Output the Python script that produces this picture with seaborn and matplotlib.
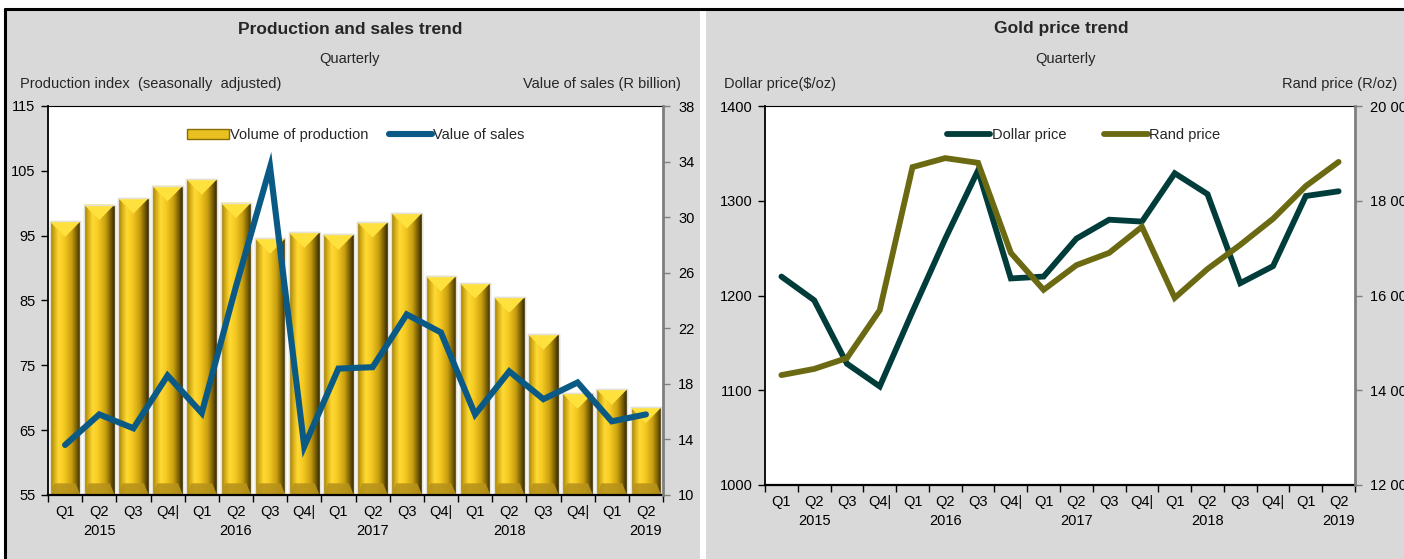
import numpy as np
import pandas as pd
import seaborn as sns
import matplotlib
matplotlib.use("Agg")
import matplotlib.pyplot as plt
from matplotlib import font_manager
from matplotlib.colors import LinearSegmentedColormap
from matplotlib.patches import Rectangle, Polygon, Patch
from matplotlib.lines import Line2D
from matplotlib.ticker import FuncFormatter

# ---------------------------------------------------------------- data
quarters = ["Q1", "Q2", "Q3", "Q4|"] * 4 + ["Q1", "Q2"]
years = ["2015", "2016", "2017", "2018", "2019"]
tick_labels = []
for i, q in enumerate(quarters):
    yr = years[i // 4]
    tick_labels.append(f"{q}\n{yr}" if q == "Q2" else q)

production_index = [97.2, 99.8, 100.8, 102.7, 103.7, 100.1, 94.6, 95.5, 95.2,
                    97.1, 98.5, 88.8, 87.7, 85.5, 79.8, 70.7, 71.3, 68.5]
sales_value = [13.6, 15.8, 14.8, 18.6, 15.9, 25.0, 33.6, 13.5, 19.1,
               19.2, 23.0, 21.7, 15.8, 18.9, 16.9, 18.1, 15.3, 15.8]

dollar_price = [1220, 1195, 1128, 1104, 1183, 1260, 1332, 1218, 1220,
                1260, 1280, 1278, 1329, 1307, 1213, 1231, 1305, 1310]
rand_price = [14320, 14450, 14680, 15690, 18710, 18900, 18800, 16900, 16120,
              16640, 16900, 17450, 15950, 16560, 17070, 17620, 18310, 18820]

# ---------------------------------------------------------------- style
sns.set_theme(style="white")
available = {f.name for f in font_manager.fontManager.ttflist}
families = [f for f in ["Liberation Sans Narrow", "Liberation Sans", "DejaVu Sans"] if f in available]
plt.rcParams["font.family"] = families
plt.rcParams["axes.linewidth"] = 1.0

BG = "#d9d9d9"
SALES_C = "#0b5a85"
DOLLAR_C = "#003d3a"
RAND_C = "#6b6a12"
TXT = 10.5

fig = plt.figure(figsize=(14.04, 5.59), dpi=100, facecolor="white")
W, H = 1404.0, 559.0

# panel backgrounds and frame
fig.patches.append(Rectangle((5 / W, 0), (700 - 5) / W, (H - 9) / H, transform=fig.transFigure,
                             facecolor=BG, edgecolor="none", zorder=-10))
fig.patches.append(Rectangle((706 / W, 0), (W - 706) / W, (H - 9) / H, transform=fig.transFigure,
                             facecolor=BG, edgecolor="none", zorder=-10))
fig.lines.append(Line2D([5 / W, 1], [(H - 9) / H] * 2, transform=fig.transFigure,
                        color="black", lw=2.2, zorder=-5))
fig.lines.append(Line2D([5 / W] * 2, [0, (H - 9) / H], transform=fig.transFigure,
                        color="black", lw=2.2, zorder=-5))

ax1 = fig.add_axes([48 / W, (H - 495) / H, 615 / W, 389 / H])
ax3 = fig.add_axes([765 / W, (H - 485) / H, 590 / W, 379 / H])

x = np.arange(len(quarters))
df = pd.DataFrame({"pos": x, "label": tick_labels, "production": production_index,
                   "sales": sales_value, "dollar": dollar_price, "rand": rand_price})


def style_axes(ax, twin, right_color="#7f7f7f"):
    ax.set_xlim(-0.5, len(x) - 0.5)
    ax.set_facecolor("white")
    for s in ["left", "bottom", "top"]:
        ax.spines[s].set_color("black")
        ax.spines[s].set_visible(True)
    ax.spines["top"].set_linewidth(0.8)
    ax.spines["bottom"].set_linewidth(1.6)
    ax.spines["left"].set_linewidth(1.3)
    ax.spines["right"].set_visible(False)
    twin.spines["right"].set_color(right_color)
    twin.spines["right"].set_linewidth(2.0)
    for s in ["left", "top", "bottom"]:
        twin.spines[s].set_visible(False)
    ax.set_xticks(x)
    ax.set_xticklabels(tick_labels, fontsize=TXT, linespacing=1.45)
    ax.set_xticks(np.arange(-0.5, len(x), 1.0), minor=True)
    ax.tick_params(axis="x", which="major", length=0, pad=7, colors="black")
    ax.tick_params(axis="x", which="minor", length=5, width=1.0, direction="out",
                   color="black", bottom=True)
    ax.tick_params(axis="y", which="major", length=5, width=1.0, direction="out",
                   left=True, labelsize=TXT, pad=4, colors="black", color="black")
    twin.tick_params(axis="y", which="major", length=5, width=1.0, direction="out",
                     right=True, labelsize=TXT, pad=6, labelcolor="black", color=right_color)
    ax.set_xlabel("")
    ax.set_ylabel("")
    twin.set_xlabel("")
    twin.set_ylabel("")
    ax.grid(False)
    twin.grid(False)


# ---------------------------------------------------------------- left chart
sns.barplot(data=df, x="pos", y="production", ax=ax1, color="#e8c020", width=0.9,
            native_scale=True, saturation=1, edgecolor="#dedbd0", linewidth=1.0)
ax1.set_ylim(55, 115)
ax1.set_yticks(np.arange(55, 116, 10))

gold = LinearSegmentedColormap.from_list("gold", [
    (0.0, "#8a6c04"), (0.1, "#c9a10f"), (0.28, "#ffd935"), (0.45, "#f6cb22"),
    (0.7, "#c99f10"), (0.88, "#705705"), (1.0, "#2f2500")])
grad = np.linspace(0, 1, 256).reshape(1, -1)
ybot = ax1.get_ylim()[0]
for bar in list(ax1.patches):
    bx, bw, bh = bar.get_x(), bar.get_width(), bar.get_height()
    img = ax1.imshow(grad, cmap=gold, aspect="auto", extent=[bx, bx + bw, ybot, bh],
                     zorder=bar.get_zorder() + 0.1, interpolation="bicubic")
    img.set_clip_path(bar)
    d = 2.4
    roof = Polygon([[bx, bh], [bx + bw, bh], [bx + bw / 2, bh - d]], closed=True,
                   facecolor="#ffe13d", edgecolor="none", zorder=bar.get_zorder() + 0.2)
    ax1.add_patch(roof)
    e = bw * 0.16
    base = Polygon([[bx, ybot], [bx + bw, ybot], [bx + bw - e, ybot + 1.8], [bx + e, ybot + 1.8]],
                   closed=True, facecolor="#b8931a", edgecolor="none", alpha=0.9,
                   zorder=bar.get_zorder() + 0.2)
    ax1.add_patch(base)
    outline = Rectangle((bx, ybot), bw, bh - ybot, facecolor="none", edgecolor="#e4e1d6",
                        lw=1.0, zorder=bar.get_zorder() + 0.3)
    ax1.add_patch(outline)

ax2 = ax1.twinx()
sns.lineplot(data=df, x="pos", y="sales", ax=ax2, color=SALES_C, lw=4.4,
             solid_capstyle="round", solid_joinstyle="miter")
ax2.set_ylim(10, 38)
ax2.set_yticks(np.arange(10, 39, 4))
style_axes(ax1, ax2)

leg_handles = [Patch(facecolor="#e8c020", edgecolor="#8a6c04", lw=1.0),
               Line2D([], [], color=SALES_C, lw=4.4, solid_capstyle="round")]
ax2.legend(leg_handles, ["Volume of production", "Value of sales"], ncol=2, frameon=False,
           loc="center", bbox_to_anchor=(0.5, 0.925), fontsize=TXT, handlelength=2.9,
           handleheight=0.6, handletextpad=0.1, columnspacing=1.4)

fig.text(350 / W, 1 - 29 / H, "Production and sales trend", ha="center", va="center",
         fontsize=12.5, fontweight="bold")
fig.text(350 / W, 1 - 59 / H, "Quarterly", ha="center", va="center", fontsize=TXT)
fig.text(20 / W, 1 - 84 / H, "Production index  (seasonally  adjusted)", ha="left",
         va="center", fontsize=TXT)
fig.text(681 / W, 1 - 84 / H, "Value of sales (R billion)", ha="right", va="center",
         fontsize=TXT)

# ---------------------------------------------------------------- right chart
sns.lineplot(data=df, x="pos", y="dollar", ax=ax3, color=DOLLAR_C, lw=4.2,
             solid_capstyle="round", solid_joinstyle="miter")
ax3.set_ylim(1000, 1400)
ax3.set_yticks(np.arange(1000, 1401, 100))
ax4 = ax3.twinx()
sns.lineplot(data=df, x="pos", y="rand", ax=ax4, color=RAND_C, lw=4.2,
             solid_capstyle="round", solid_joinstyle="miter")
ax4.set_ylim(12000, 20000)
ax4.set_yticks(np.arange(12000, 20001, 2000))
ax4.yaxis.set_major_formatter(FuncFormatter(lambda v, p: f"{int(v):,}".replace(",", " ")))
style_axes(ax3, ax4)

leg2 = [Line2D([], [], color=DOLLAR_C, lw=4.2, solid_capstyle="round"),
        Line2D([], [], color=RAND_C, lw=4.2, solid_capstyle="round")]
ax4.legend(leg2, ["Dollar price", "Rand price"], ncol=2, frameon=False, loc="center",
           bbox_to_anchor=(0.54, 0.923), fontsize=TXT, handlelength=3.0,
           handletextpad=0.1, columnspacing=2.6)

fig.text(1061 / W, 1 - 29 / H, "Gold price trend", ha="center", va="center",
         fontsize=12.5, fontweight="bold")
fig.text(1066 / W, 1 - 59 / H, "Quarterly", ha="center", va="center", fontsize=TXT)
fig.text(724 / W, 1 - 84 / H, "Dollar price($/oz)", ha="left", va="center", fontsize=TXT)
fig.text(1397 / W, 1 - 84 / H, "Rand price (R/oz)", ha="right", va="center", fontsize=TXT)

fig.savefig("out.png", dpi=100, facecolor=fig.get_facecolor())
